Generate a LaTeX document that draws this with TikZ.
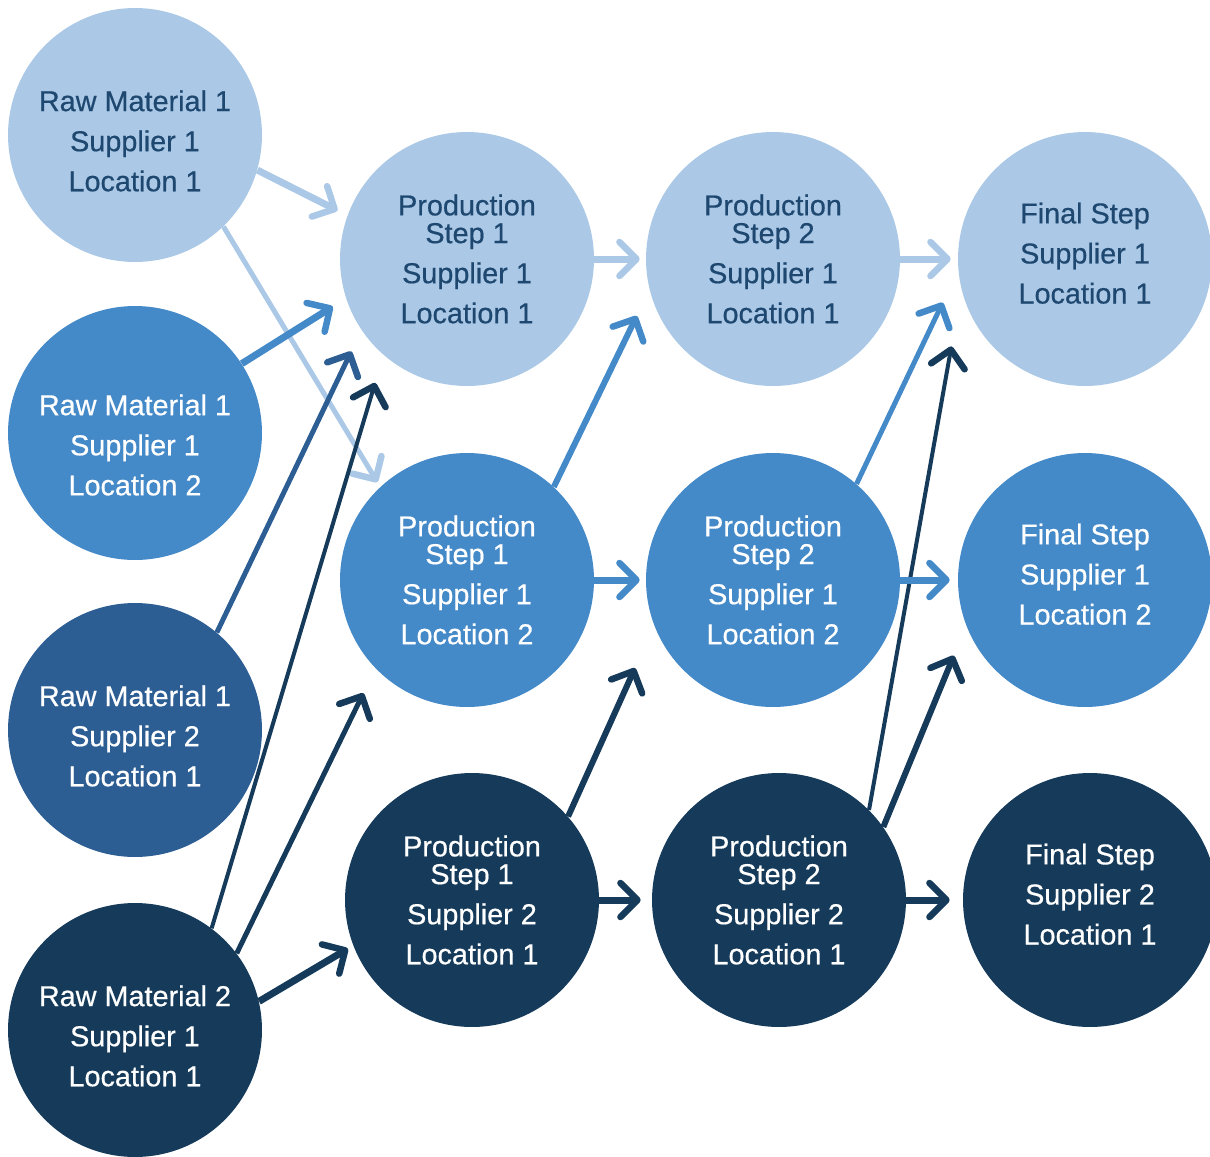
\documentclass[tikz,border=0pt]{standalone}
\usepackage{fontspec}
\setmainfont{Liberation Sans}
\newfontfamily\stagefont{Liberation Sans}[FakeBold=0.5]
\usetikzlibrary{arrows.meta}
\definecolor{lightblue}{RGB}{171,201,230}
\definecolor{midblue}{RGB}{68,137,200}
\definecolor{deepblue}{RGB}{44,94,148}
\definecolor{navyblue}{RGB}{22,59,90}
\definecolor{labelblue}{RGB}{30,72,112}

\tikzset{
  stage/.style={circle, minimum size=5.08cm, inner sep=0pt, align=center,
    font=\stagefont\fontsize{16.4}{22.8}\selectfont},
  lightstage/.style={stage, fill=lightblue, text=labelblue},
  midstage/.style={stage, fill=midblue, text=white},
  deepstage/.style={stage, fill=deepblue, text=white},
  navystage/.style={stage, fill=navyblue, text=white},
  rawtext/.style={text height=64.2pt},
  finaltext/.style={text depth=6.8pt},
  flow/.style={-{Straight Barb[length=0.34cm, width=0.68cm, round, line width=0.13cm]},
    line width=0.14cm},
  flowmid/.style={flow, line width=0.12cm},
  flowthin/.style={flow, line width=0.1cm},
  flowfine/.style={flow, line width=0.08cm}
}

\begin{document}
\begin{tikzpicture}[x=0.02cm, y=0.02cm]
  \useasboundingbox (0,0) rectangle (1210,-1156);

  % raw materials
  \node[lightstage, rawtext] (r1) at (135,-135) {Raw Material 1\\Supplier 1\\Location 1};
  \node[midstage, rawtext, text height=71.1pt] (r2) at (135,-433) {Raw Material 1\\Supplier 1\\Location 2};
  \node[deepstage, rawtext]  (r3) at (135,-730) {Raw Material 1\\Supplier 2\\Location 1};
  \node[navystage, rawtext]  (r4) at (135,-1030) {Raw Material 2\\Supplier 1\\Location 1};

  % production step 1
  \node[lightstage] (p1a) at (467,-259) {Production\\[-7pt]Step 1\\Supplier 1\\Location 1};
  \node[midstage]   (p1b) at (467,-580) {Production\\[-7pt]Step 1\\Supplier 1\\Location 2};
  \node[navystage]  (p1c) at (472,-900) {Production\\[-7pt]Step 1\\Supplier 2\\Location 1};

  % production step 2
  \node[lightstage] (p2a) at (773,-259) {Production\\[-7pt]Step 2\\Supplier 1\\Location 1};
  \node[midstage]   (p2b) at (773,-580) {Production\\[-7pt]Step 2\\Supplier 1\\Location 2};
  \node[navystage]  (p2c) at (779,-900) {Production\\[-7pt]Step 2\\Supplier 2\\Location 1};

  % final step
  \node[lightstage, finaltext] (f1) at (1085,-259) {Final Step\\Supplier 1\\Location 1};
  \node[midstage, finaltext]   (f2) at (1085,-580) {Final Step\\Supplier 1\\Location 2};
  \node[navystage, finaltext]  (f3) at (1090,-900) {Final Step\\Supplier 2\\Location 1};

  % into production step 1
  \draw[flow, lightblue, shorten >=0.22cm] (r1.-16) -- (p1a.160);
  \draw[flowthin, lightblue, shorten >=0.11cm] (r1.-46) -- (p1b.133);
  \draw[flow, midblue, shorten >=0.31cm] (r2.33) -- (p1a.198);
  \draw[flowthin, deepblue, shorten >=0.47cm] (r3.50) -- (p1a.214);
  \draw[flowfine, navyblue, shorten >=0.58cm] (r4.53) -- (p1a.229);
  \draw[flowthin, navyblue, shorten >=0.55cm] (r4.37) -- (p1b.224);
  \draw[flow, navyblue, shorten >=0.12cm] (r4.13) -- (p1c.201);

  % into production step 2
  \draw[flow, lightblue, shorten >=0.12cm] (p1a.0) -- (p2a.180);
  \draw[flowmid, midblue, shorten >=0.58cm] (p1b.47) -- (p2a.194);
  \draw[flow, midblue, shorten >=0.12cm] (p1b.0) -- (p2b.180);
  \draw[flowmid, navyblue, shorten >=0.93cm] (p1c.41) -- (p2b.201);
  \draw[flow, navyblue, shorten >=0.22cm] (p1c.0) -- (p2c.180);

  % into final step
  \draw[flow, lightblue, shorten >=0.14cm] (p2a.0) -- (f1.180);
  \draw[flowthin, midblue, shorten >=0.72cm] (p2b.49) -- (f1.185);
  \draw[flowfine, navyblue, shorten >=1.15cm] (p2c.45) -- (f1.194);
  \draw[flow, midblue, shorten >=0.16cm] (p2b.0) -- (f2.180);
  \draw[flowmid, navyblue, shorten >=0.65cm] (p2c.35) -- (f2.201);
  \draw[flow, navyblue, shorten >=0.26cm] (p2c.0) -- (f3.180);
\end{tikzpicture}
\end{document}
